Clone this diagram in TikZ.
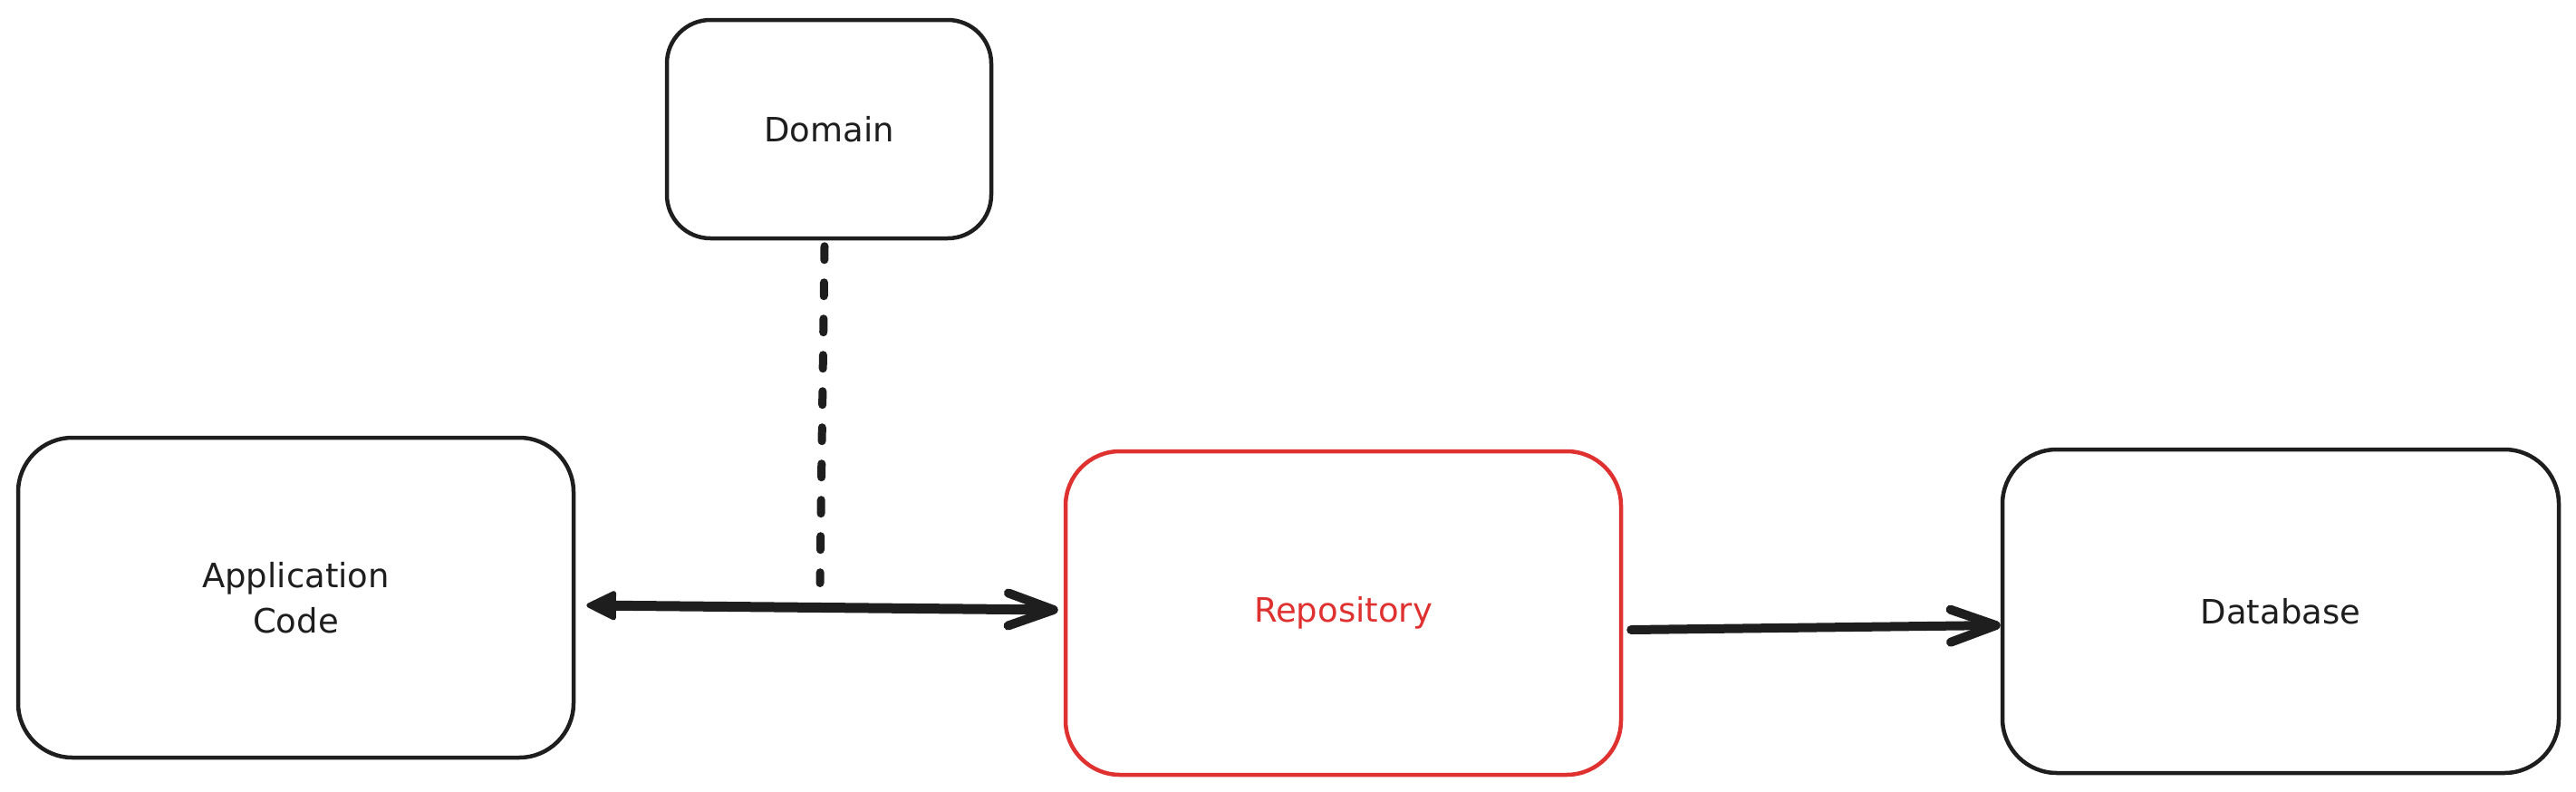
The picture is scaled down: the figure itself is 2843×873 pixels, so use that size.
\documentclass[tikz,border=0pt]{standalone}
\usepackage{fontspec}
\setmainfont{DejaVu Sans}
\usetikzlibrary{arrows.meta,calc}
\definecolor{ink}{HTML}{1E1E1E}
\definecolor{redink}{HTML}{E03131}
\begin{document}
\begin{tikzpicture}[x=1pt,y=-1pt,
  box/.style={draw=ink, line width=4.5pt, rounded corners=60pt, inner sep=0pt,
    font=\fontsize{37}{50}\selectfont, text=ink, align=center},
  conn/.style={draw=ink, line width=10pt, line cap=round, line join=round},
  barb/.style={-{Straight Barb[length=50pt,width=36pt,round]}},
  dashline/.style={draw=ink, line width=9pt, line cap=round, dash pattern=on 15pt off 25pt}]
\useasboundingbox (0,0) rectangle (2843,873);
\node[box, minimum width=613pt, minimum height=353pt] (app) at (326.5,659.5) {Application\\Code};
\node[box, rounded corners=48pt, minimum width=358pt, minimum height=241pt] (domain) at (915,142.5) {Domain};
\node[box, draw=redink, text=redink, minimum width=613pt, minimum height=357pt] (repo) at (1482.5,676.5) {Repository};
\node[box, minimum width=614pt, minimum height=357pt] (db) at (2517,674.5) {Database};
\coordinate (dashend) at (905,643.5);
\draw[dashline] ($(domain.south)+(-5,6.5)$) -- (dashend);
\draw[conn, line width=11pt, {Triangle[length=36pt,width=34pt,line width=5pt,round]}-{Straight Barb[length=50pt,width=36pt,line width=10pt,round]}]
  ($(app.east)+(12,8.5)$) -- ($(repo.west)+(-6,-3.5)$);
\draw[conn, barb] ($(repo.east)+(9,18.5)$) -- ($(db.west)+(0,15.5)$);
\end{tikzpicture}
\end{document}
